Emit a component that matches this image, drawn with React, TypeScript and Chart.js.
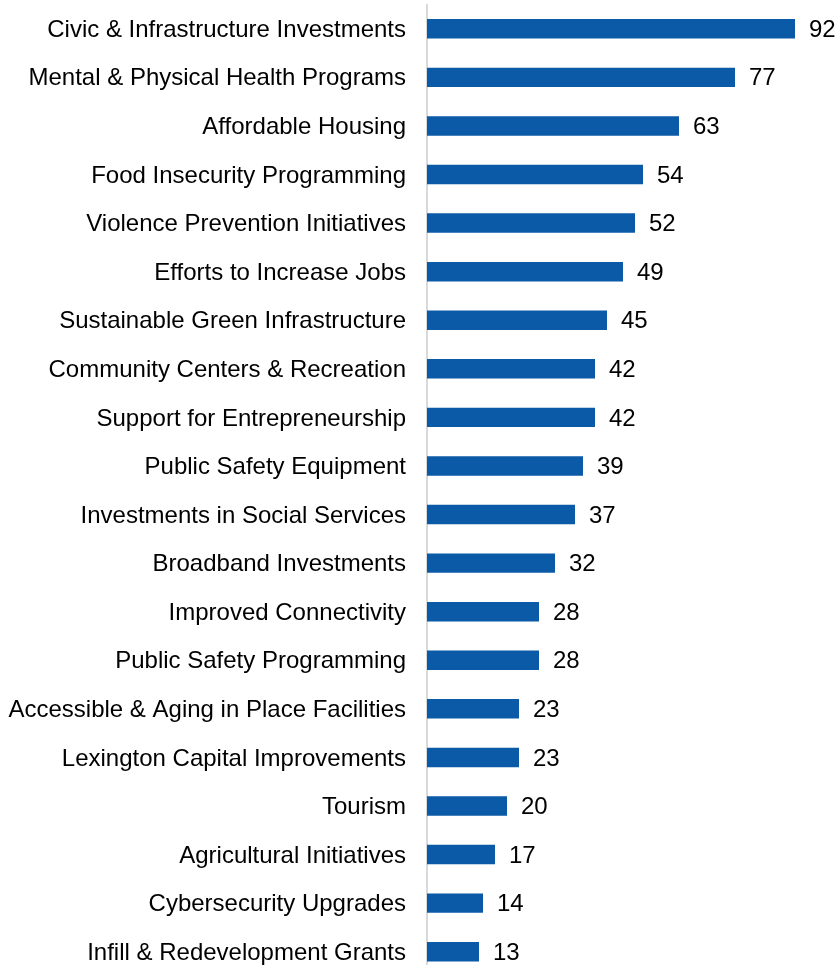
import React, { useEffect, useRef } from "react";
import { Chart, registerables } from "chart.js";

Chart.register(...registerables);

const categories: string[] = [
  "Civic & Infrastructure Investments",
  "Mental & Physical Health Programs",
  "Affordable Housing",
  "Food Insecurity Programming",
  "Violence Prevention Initiatives",
  "Efforts to Increase Jobs",
  "Sustainable Green Infrastructure",
  "Community Centers & Recreation",
  "Support for Entrepreneurship",
  "Public Safety Equipment",
  "Investments in Social Services",
  "Broadband Investments",
  "Improved Connectivity",
  "Public Safety Programming",
  "Accessible & Aging in Place Facilities",
  "Lexington Capital Improvements",
  "Tourism",
  "Agricultural Initiatives",
  "Cybersecurity Upgrades",
  "Infill & Redevelopment Grants",
];

const values: number[] = [92, 77, 63, 54, 52, 49, 45, 42, 42, 39, 37, 32, 28, 28, 23, 23, 20, 17, 14, 13];

const FONT = "'Liberation Sans', Arial, sans-serif";

const valueLabels = {
  id: "valueLabels",
  afterDatasetsDraw(chart: any) {
    const ctx = chart.ctx;
    const meta = chart.getDatasetMeta(0);
    ctx.save();
    ctx.font = `24px ${FONT}`;
    ctx.fillStyle = "#000";
    ctx.textAlign = "left";
    ctx.textBaseline = "middle";
    meta.data.forEach((bar: any, i: number) => {
      ctx.fillText(String(values[i]), bar.x + 14, bar.y + 1.5);
    });
    ctx.restore();
  },
};

export default function App() {
  const ref = useRef<HTMLCanvasElement | null>(null);
  useEffect(() => {
    if (!ref.current) return;
    const chart = new Chart(ref.current, {
      type: "bar",
      data: {
        labels: categories,
        datasets: [
          {
            data: values,
            backgroundColor: "#0B5AA7",
            borderWidth: 0,
            barPercentage: 0.4,
            categoryPercentage: 1,
          },
        ],
      },
      options: {
        indexAxis: "y",
        animation: false,
        responsive: false,
        maintainAspectRatio: false,
        layout: { padding: { top: 4.5, bottom: 4, left: 0, right: 11 } },
        plugins: { legend: { display: false }, tooltip: { enabled: false } },
        scales: {
          x: { min: 0, max: 100, display: false },
          y: {
            afterFit: (scale: any) => {
              scale.width = 427;
              scale.paddingTop = 0;
              scale.paddingBottom = 0;
            },
            grid: { display: false, drawTicks: false },
            border: { display: true, color: "#d9d9d9", width: 2 },
            ticks: {
              padding: 21,
              labelOffset: 1.5,
              color: "#000",
              font: { family: FONT, size: 24 },
              autoSkip: false,
            },
          },
        },
      },
      plugins: [valueLabels],
    });
    return () => chart.destroy();
  }, []);
  return (
    <div style={{ position: "absolute", left: 0, top: 0, width: 838, height: 965, overflow: "hidden", background: "#fff" }}>
      <canvas ref={ref} width={838} height={980} style={{ display: "block", width: 838, height: 980 }} />
    </div>
  );
}
